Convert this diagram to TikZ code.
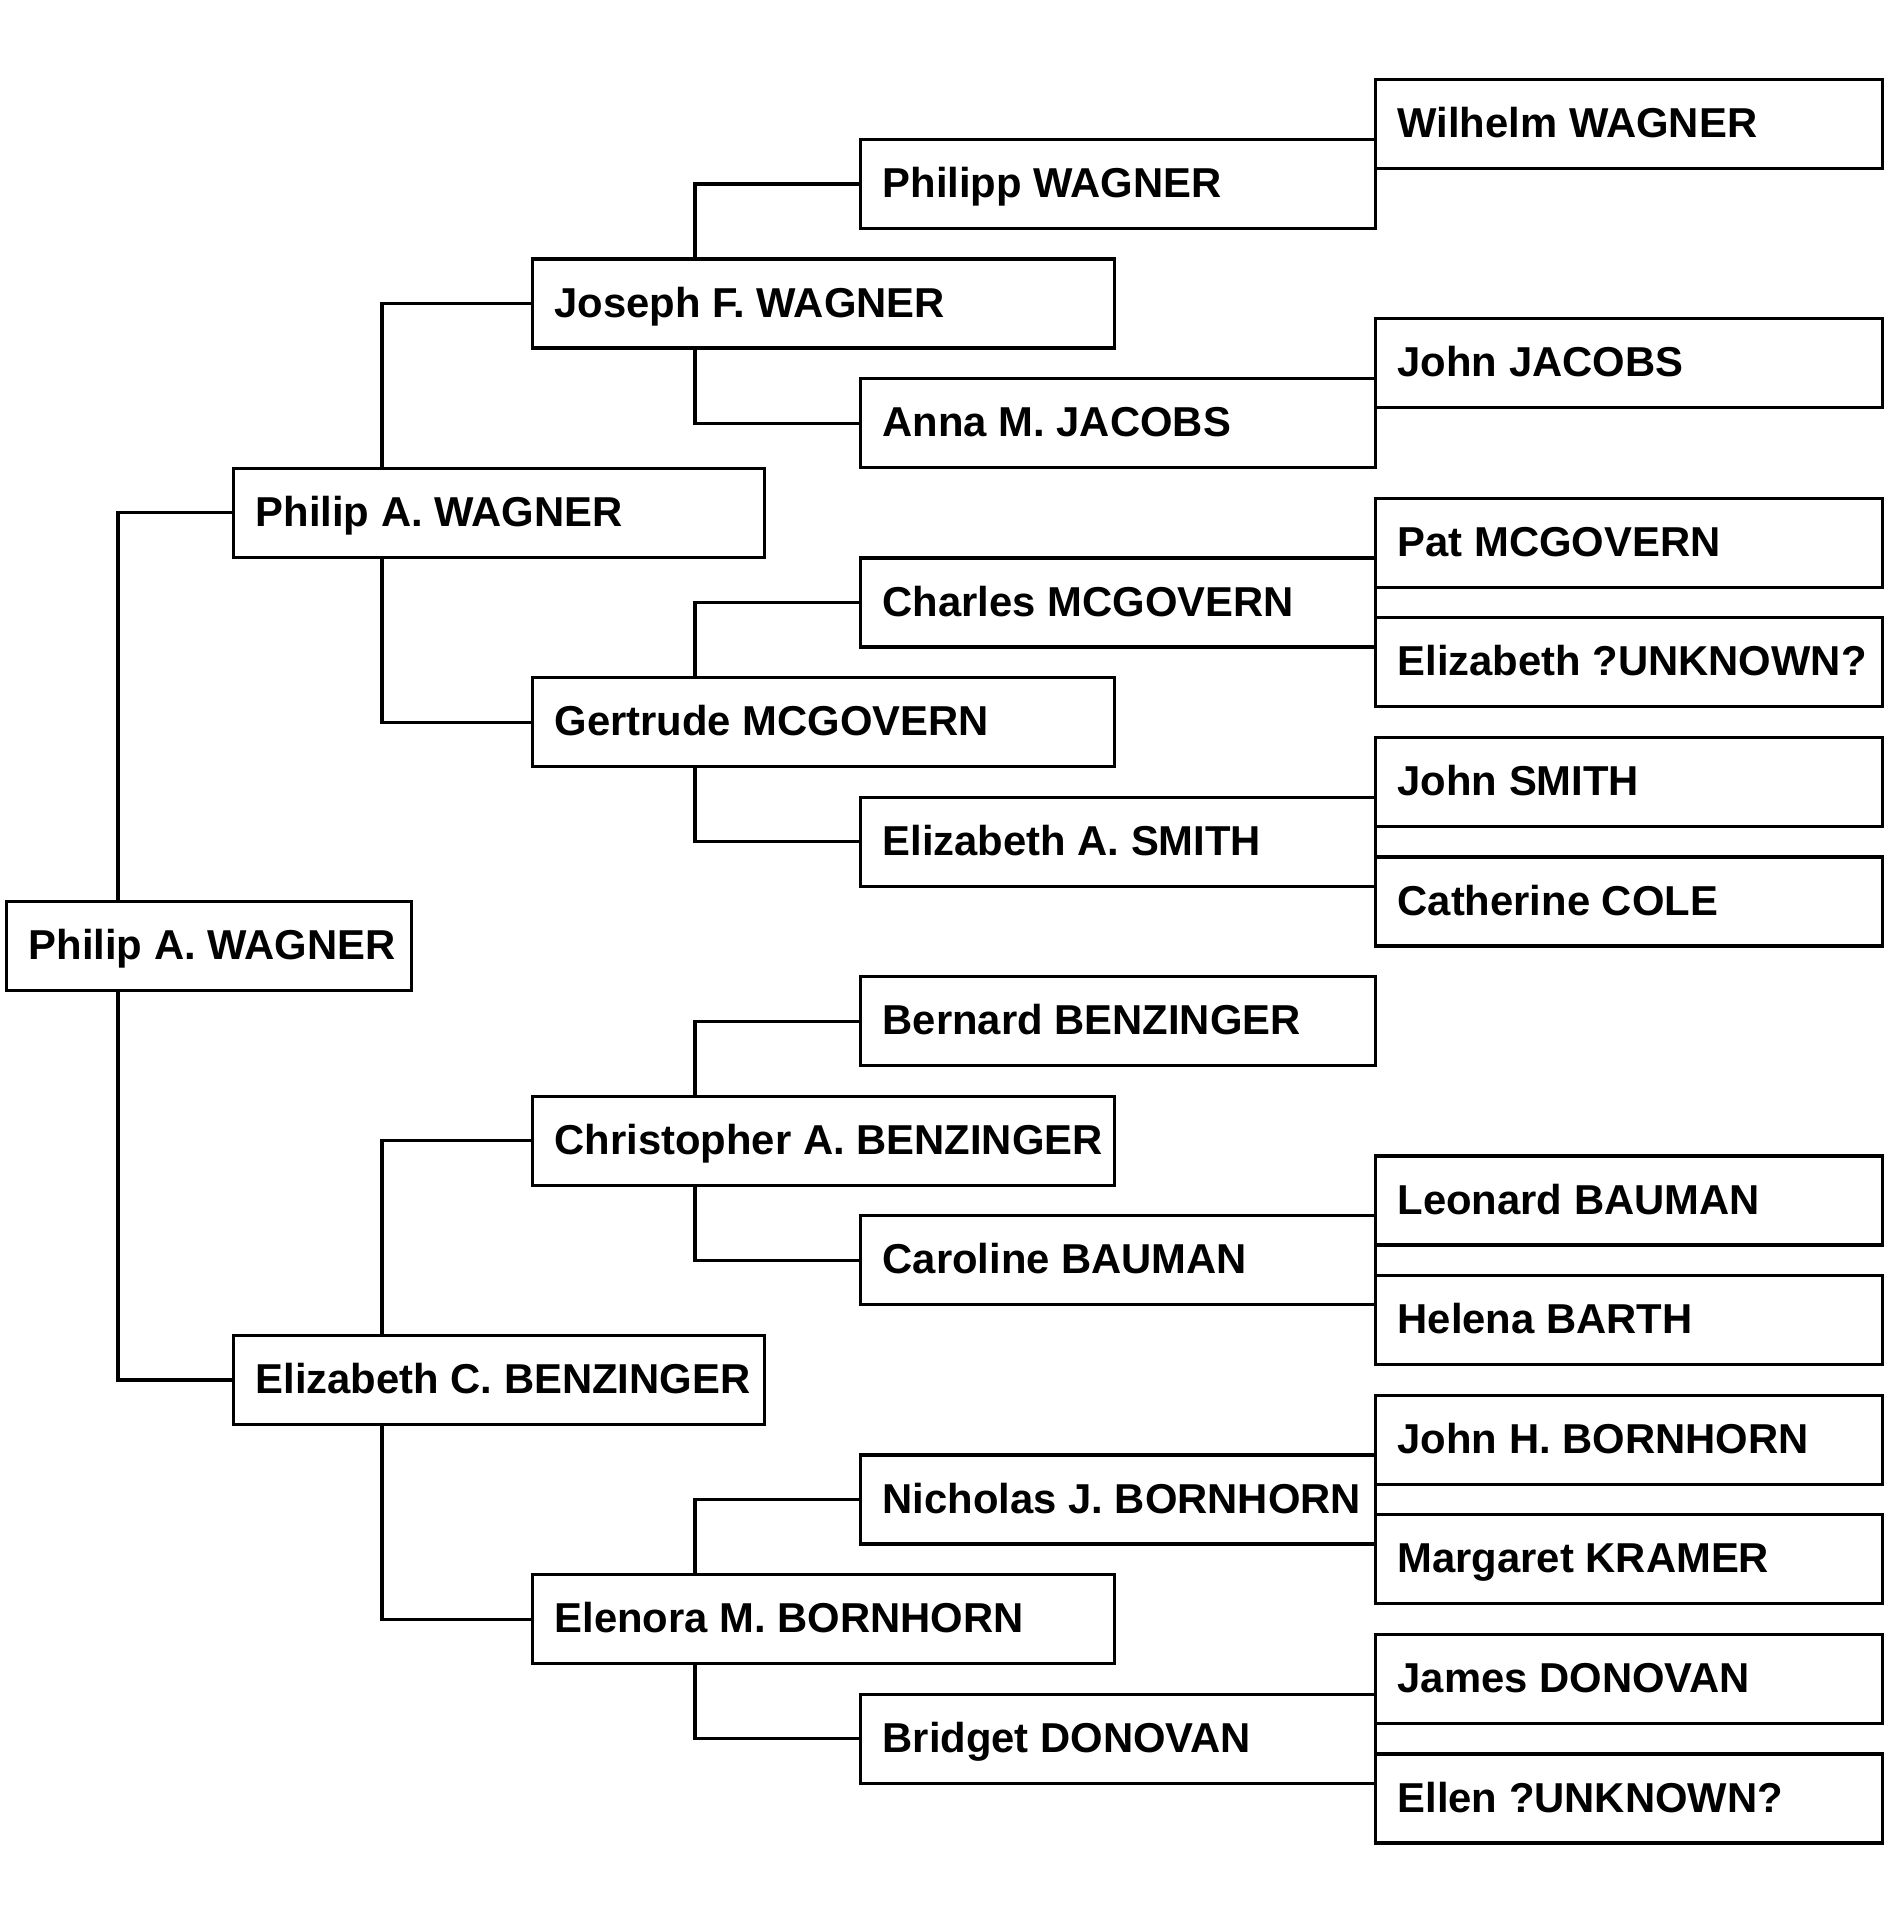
\documentclass[tikz,border=0pt]{standalone}
\usepackage{fontspec}
\setmainfont{Liberation Sans}
\newcommand\pname[2]{\makebox[#1][l]{#2}}
\begin{document}
\begin{tikzpicture}[x=1pt,y=-1pt,
  person/.style={draw, line width=3.2pt, anchor=north west, inner xsep=22pt, inner ysep=0pt,
    minimum height=89pt, text height=27pt, text depth=0pt,
    font=\bfseries\fontsize{41.8}{48}\selectfont},
  link/.style={line width=3.2pt}]
\useasboundingbox (0,0) rectangle (1887,1906);
\def\ry#1{78+#1*59.8}
% level 0
\node[person] (root) at (5,{\ry{13.75}}) {\pname{361pt}{Philip A. WAGNER}};
% level 1
\node[person] (p1) at (232,{\ry{6.5}}) {\pname{487pt}{Philip A. WAGNER}};
\node[person] (p2) at (232,{\ry{21}}) {\pname{487pt}{Elizabeth C. BENZINGER}};
% level 2
\node[person] (g1) at (531,{\ry{3}}) {\pname{538pt}{Joseph F. WAGNER}};
\node[person] (g2) at (531,{\ry{10}}) {\pname{538pt}{Gertrude MCGOVERN}};
\node[person] (g3) at (531,{\ry{17}}) {\pname{538pt}{Christopher A. BENZINGER}};
\node[person] (g4) at (531,{\ry{25}}) {\pname{538pt}{Elenora M. BORNHORN}};
% level 3
\node[person] (h1) at (859,{\ry{1}}) {\pname{471pt}{Philipp WAGNER}};
\node[person] (h2) at (859,{\ry{5}}) {\pname{471pt}{Anna M. JACOBS}};
\node[person] (h3) at (859,{\ry{8}}) {\pname{471pt}{Charles MCGOVERN}};
\node[person] (h4) at (859,{\ry{12}}) {\pname{471pt}{Elizabeth A. SMITH}};
\node[person] (h5) at (859,{\ry{15}}) {\pname{471pt}{Bernard BENZINGER}};
\node[person] (h6) at (859,{\ry{19}}) {\pname{471pt}{Caroline BAUMAN}};
\node[person] (h7) at (859,{\ry{23}}) {\pname{471pt}{Nicholas J. BORNHORN}};
\node[person] (h8) at (859,{\ry{27}}) {\pname{471pt}{Bridget DONOVAN}};
% level 4
\node[person] (k1) at (1374,{\ry{0}}) {\pname{463pt}{Wilhelm WAGNER}};
\node[person] (k2) at (1374,{\ry{4}}) {\pname{463pt}{John JACOBS}};
\node[person] (k3) at (1374,{\ry{7}}) {\pname{463pt}{Pat MCGOVERN}};
\node[person] (k4) at (1374,{\ry{9}}) {\pname{463pt}{Elizabeth ?UNKNOWN?}};
\node[person] (k5) at (1374,{\ry{11}}) {\pname{463pt}{John SMITH}};
\node[person] (k6) at (1374,{\ry{13}}) {\pname{463pt}{Catherine COLE}};
\node[person] (k7) at (1374,{\ry{18}}) {\pname{463pt}{Leonard BAUMAN}};
\node[person] (k8) at (1374,{\ry{20}}) {\pname{463pt}{Helena BARTH}};
\node[person] (k9) at (1374,{\ry{22}}) {\pname{463pt}{John H. BORNHORN}};
\node[person] (k10) at (1374,{\ry{24}}) {\pname{463pt}{Margaret KRAMER}};
\node[person] (k11) at (1374,{\ry{26}}) {\pname{463pt}{James DONOVAN}};
\node[person] (k12) at (1374,{\ry{28}}) {\pname{463pt}{Ellen ?UNKNOWN?}};
% stems
\coordinate (s0) at (118,0);
\coordinate (s1) at (382,0);
\coordinate (s2) at (695,0);
% connectors
\draw[link] (root.north -| s0) |- (p1.west);
\draw[link] (root.south -| s0) |- (p2.west);
\draw[link] (p1.north -| s1) |- (g1.west);
\draw[link] (p1.south -| s1) |- (g2.west);
\draw[link] (p2.north -| s1) |- (g3.west);
\draw[link] (p2.south -| s1) |- (g4.west);
\draw[link] (g1.north -| s2) |- (h1.west);
\draw[link] (g1.south -| s2) |- (h2.west);
\draw[link] (g2.north -| s2) |- (h3.west);
\draw[link] (g2.south -| s2) |- (h4.west);
\draw[link] (g3.north -| s2) |- (h5.west);
\draw[link] (g3.south -| s2) |- (h6.west);
\draw[link] (g4.north -| s2) |- (h7.west);
\draw[link] (g4.south -| s2) |- (h8.west);
\end{tikzpicture}
\end{document}
